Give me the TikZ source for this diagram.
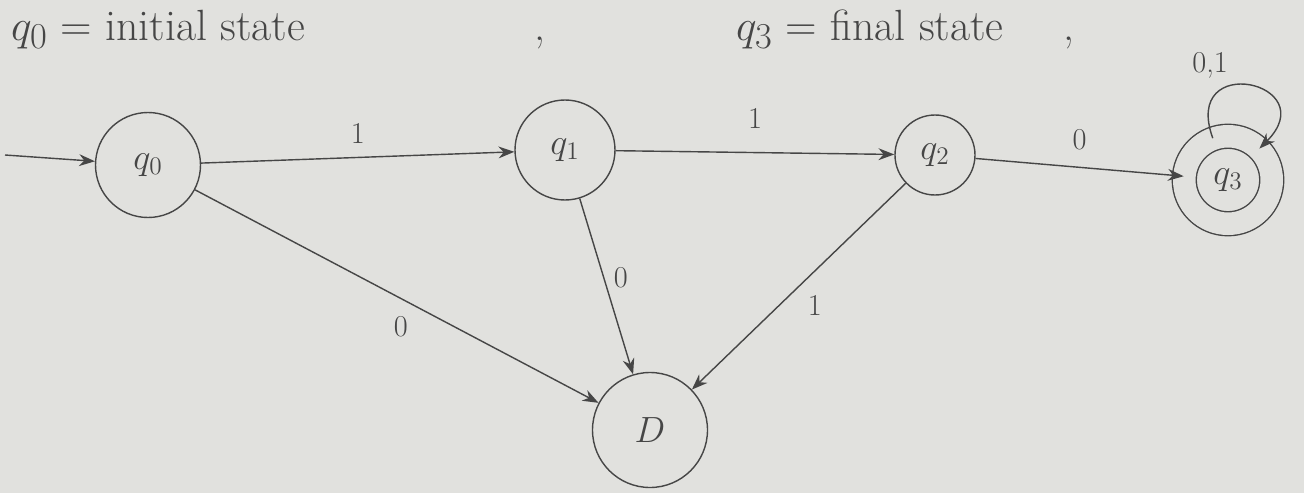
\documentclass[tikz,border=0pt]{standalone}
\usepackage{amsmath,amssymb}
\usepackage{xcolor}
\usetikzlibrary{arrows.meta,positioning,calc}
\definecolor{pencil}{RGB}{70,70,70}
\definecolor{paper}{RGB}{225,225,222}

\begin{document}
\begin{tikzpicture}[
  state/.style={draw=pencil, circle, thick, minimum size=2.1cm, font=\huge, text=pencil},
  final/.style={state, double=paper, double distance=0.45cm},
  arr/.style={-{Stealth[length=9pt]}, thick, draw=pencil},
  lbl/.style={font=\LARGE, text=pencil},
  node distance=0.6cm
]
\fill[paper] (0,0) rectangle (26.08,9.86);
\useasboundingbox (0,0) rectangle (26.08,9.86);

% header
\node[lbl, font=\Huge, anchor=base west] (note0) at (0.1,9.05) {$q_0$ = initial state\hspace{4.6cm},};
\node[lbl, font=\Huge, anchor=base west] (note3) at (14.6,9.05) {$q_3$ = final state\hspace{1.2cm},};

% states
\node[state] (q0) at (2.96,6.56) {$q_0$};
\node[state, minimum size=2cm] (q1) at (11.3,6.86) {$q_1$};
\node[state, minimum size=1.6cm] (q2) at (18.7,6.76) {$q_2$};
\node[final, minimum size=1.75cm] (q3) at (24.56,6.26) {$q_3$};
\node[state, minimum size=2.3cm] (D) at (13.0,1.26) {$D$};
\coordinate (start) at (0.1,6.76);

% transitions
\draw[arr] (start) -- (q0);
\draw[arr] (q0) -- node[lbl, above=4pt] {1} (q1);
\draw[arr] (q1) -- node[lbl, above=10pt] {1} (q2);
\draw[arr] (q2) -- node[lbl, above=6pt] {0} (q3);
\draw[arr] (q0) -- node[lbl, below left=2pt, pos=0.55] {0} (D);
\draw[arr] (q1) -- node[lbl, right=2pt, pos=0.45] {0} (D);
\draw[arr] (q2) -- node[lbl, below right=2pt, pos=0.5] {1} (D);
\draw[arr] (q3) to[out=110, in=45, looseness=5] node[lbl, above left=0pt, pos=0.4] {0,1} (q3);
\end{tikzpicture}
\end{document}
